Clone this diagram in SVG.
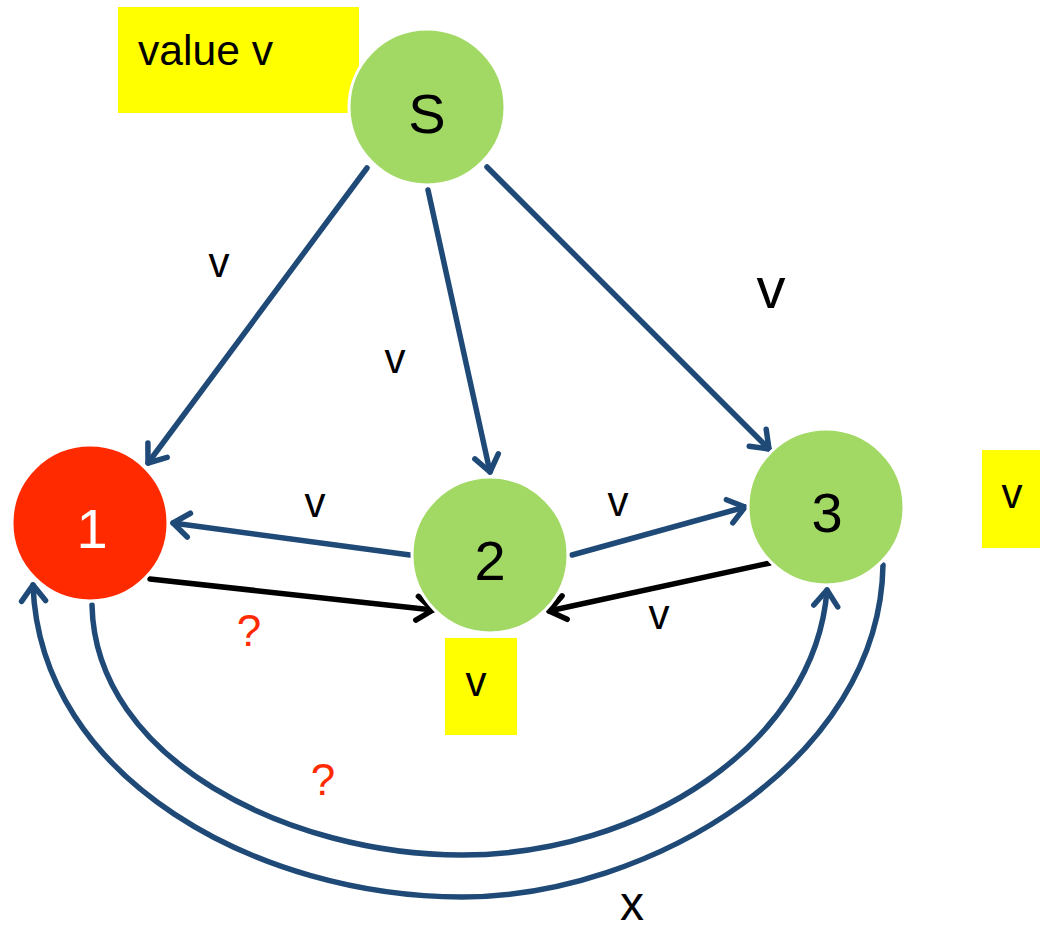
<svg xmlns="http://www.w3.org/2000/svg" width="1040" height="929" viewBox="0 0 1040 929">
<style>
.t{font-family:"Liberation Sans",Arial,sans-serif;fill:#000}
.lbl{font-size:42px;text-anchor:middle}
.num{font-size:56px;text-anchor:middle}
.q{font-family:"Liberation Sans",Arial,sans-serif;font-size:44px;fill:#ff2a00;text-anchor:middle}
.b{fill:none;stroke:#1f4a78;stroke-width:5.5;stroke-linecap:round}
.k{fill:none;stroke:#000;stroke-width:5.5;stroke-linecap:round}
.node{stroke:#fff;stroke-width:3}
.box{fill:#ffff00}
</style>
<defs>
<marker id="ab" markerUnits="userSpaceOnUse" markerWidth="40" markerHeight="40" viewBox="-20 -20 40 40" refX="0" refY="0" orient="auto">
<path d="M-16,-12 L0,0 L-16,12" fill="none" stroke="#1f4a78" stroke-width="5.5" stroke-linecap="round" stroke-linejoin="round"/>
</marker>
<marker id="ak" markerUnits="userSpaceOnUse" markerWidth="40" markerHeight="40" viewBox="-20 -20 40 40" refX="0" refY="0" orient="auto">
<path d="M-16,-12 L0,0 L-16,12" fill="none" stroke="#000" stroke-width="5.5" stroke-linecap="round" stroke-linejoin="round"/>
</marker>
</defs>
<rect width="1040" height="929" fill="#fff"/>
<g id="value-box">
<rect class="box" x="118" y="7" width="241" height="106"/>
<text class="t" x="138" y="65" font-size="42" textLength="135" lengthAdjust="spacingAndGlyphs">value v</text>
</g>
<g id="box-3">
<rect class="box" x="982" y="450" width="58" height="98"/>
<text class="t lbl" x="1012" y="508">v</text>
</g>
<g id="box-2">
<rect class="box" x="445" y="638" width="72" height="97"/>
<text class="t lbl" x="476" y="696">v</text>
</g>
<g id="connectors">
<path class="b" d="M367,168 L148,463" marker-end="url(#ab)"/>
<path class="b" d="M428,190 L490,472" marker-end="url(#ab)"/>
<path class="b" d="M487,167 L769,449" marker-end="url(#ab)"/>
<path class="b" d="M410,555 L173,523" marker-end="url(#ab)"/>
<path class="k" d="M150,579 L433,610" marker-end="url(#ak)"/>
<path class="b" d="M572,555 L745,507" marker-end="url(#ab)"/>
<path class="k" d="M770,563 L549,611" marker-end="url(#ak)"/>
<path class="b" d="M92,605 C95,760 290,855 462,855 C640,855 815,745 827,590" marker-end="url(#ab)"/>
<path class="b" d="M883,565 C880,760 650,897 462,897 C260,897 40,780 33,585" marker-end="url(#ab)"/>
</g>
<g id="edge-labels">
<text class="t lbl" x="219" y="277">v</text>
<text class="t lbl" x="395" y="373">v</text>
<text class="t" x="771" y="308" font-size="58" text-anchor="middle">v</text>
<text class="t lbl" x="315" y="517">v</text>
<text class="t lbl" x="618" y="516">v</text>
<text class="t lbl" x="659" y="629">v</text>
<text class="q" x="249" y="646">?</text>
<text class="q" x="323" y="795">?</text>
<text class="t" x="632" y="920" font-size="48" text-anchor="middle">x</text>
</g>
<g id="node-S">
<circle class="node" cx="427" cy="107" r="78" fill="#a2d964"/>
<text class="t num" x="427" y="133">S</text>
</g>
<g id="node-1">
<circle class="node" cx="90" cy="523" r="78" fill="#ff2a00"/>
<text class="t num" x="92" y="548" style="fill:#fff">1</text>
</g>
<g id="node-2">
<circle class="node" cx="490" cy="555" r="78" fill="#a2d964"/>
<text class="t num" x="490" y="580">2</text>
</g>
<g id="node-3">
<circle class="node" cx="826" cy="507" r="78" fill="#a2d964"/>
<text class="t num" x="827" y="532">3</text>
</g>
</svg>
